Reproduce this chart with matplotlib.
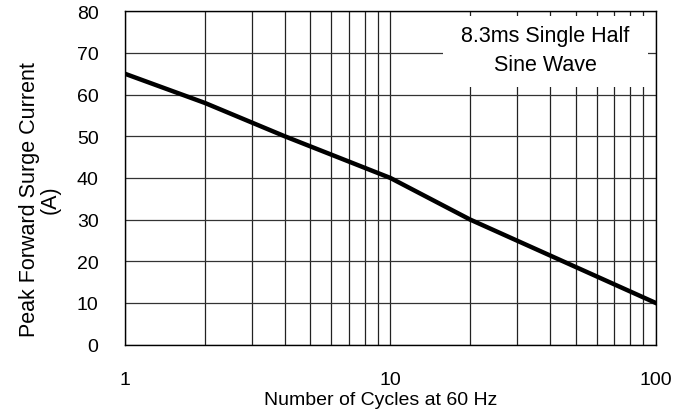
import matplotlib
matplotlib.use("Agg")
import matplotlib.pyplot as plt
from matplotlib.patches import Rectangle
from matplotlib.ticker import FixedLocator, NullFormatter

plt.rcParams['font.family'] = ['Liberation Sans', 'DejaVu Sans']

cycles = [1, 2, 4, 10, 20, 100]
current = [65, 58, 50, 40, 30, 10]
x_ticks = [1, 10, 100]
x_tick_labels = ["1", "10", "100"]
y_ticks = [0, 10, 20, 30, 40, 50, 60, 70, 80]
note = "8.3ms Single Half\nSine Wave"

fig = plt.figure(figsize=(6.9, 4.14), dpi=100)
ax = fig.add_axes([125/690, 1 - 345.5/414, (655.5-125)/690, (345.5-12.3)/414])
ax.set_xscale('log')
ax.set_xlim(1, 100)
ax.set_ylim(0, 80)

minors = [m * d for d in (1, 10) for m in range(2, 10)]
ax.xaxis.set_major_locator(FixedLocator(x_ticks))
ax.xaxis.set_minor_locator(FixedLocator(minors))
ax.xaxis.set_minor_formatter(NullFormatter())
ax.set_xticklabels(x_tick_labels)
ax.set_yticks(y_ticks)

ax.grid(True, which='both', axis='x', color='#222222', lw=0.9)
ax.grid(True, which='major', axis='y', color='#333333', lw=0.9)
ax.set_axisbelow(True)

ax.tick_params(axis='both', which='both', length=0)
ax.tick_params(axis='x', labelsize=14, pad=19)
ax.tick_params(axis='y', labelsize=14, pad=19)

ax.add_patch(Rectangle((0.5994, 0.773), 0.986 - 0.5994, 0.986 - 0.773, transform=ax.transAxes,
                       facecolor='white', edgecolor='none', zorder=1.5))
ax.text(0.792, 0.884, note, transform=ax.transAxes, ha='center', va='center',
        fontsize=15.5, zorder=3, linespacing=1.5)

ax.plot(cycles, current, color='black', lw=3.2, zorder=4, solid_joinstyle='round')

for s in ax.spines.values():
    s.set_color('black')
    s.set_linewidth(1.0)
    s.set_zorder(5)

ax.set_xlabel("Number of Cycles at 60 Hz", fontsize=14, labelpad=2, x=0.4826)
ax.set_ylabel("Peak Forward Surge Current\n(A)", fontsize=15.5, linespacing=1.0)
ax.yaxis.set_label_coords(-0.121, 0.4367)

fig.savefig("out.png", dpi=100)
